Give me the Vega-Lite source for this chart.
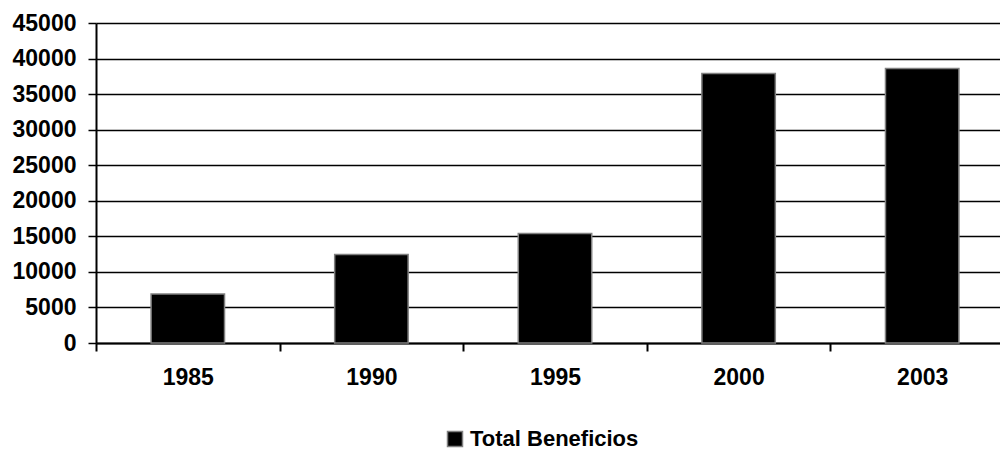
{
  "$schema": "https://vega.github.io/schema/vega-lite/v6.json",
  "width": 918,
  "height": 320,
  "autosize": "none",
  "padding": {"left": 96, "top": 23, "right": 0, "bottom": 110},
  "background": "white",
  "config": {
    "view": {"stroke": null},
    "font": "Liberation Sans"
  },
  "data": {
    "values": [
      {"year": "1985", "value": 6900, "serie": "Total Beneficios"},
      {"year": "1990", "value": 12450, "serie": "Total Beneficios"},
      {"year": "1995", "value": 15400, "serie": "Total Beneficios"},
      {"year": "2000", "value": 37900, "serie": "Total Beneficios"},
      {"year": "2003", "value": 38600, "serie": "Total Beneficios"}
    ]
  },
  "mark": {"type": "bar", "stroke": "#808080", "strokeWidth": 1.5, "width": {"band": 0.4}},
  "encoding": {
    "x": {
      "field": "year",
      "type": "nominal",
      "scale": {"paddingInner": 0, "paddingOuter": 0},
      "axis": {
        "title": null,
        "labelAngle": 0,
        "labelFont": "Liberation Sans",
        "labelFontWeight": "bold",
        "labelFontSize": 23,
        "labelColor": "black",
        "labelPadding": 15,
        "tickBand": "extent",
        "tickColor": "black",
        "tickSize": 8,
        "tickWidth": 2,
        "domainColor": "black",
        "domainWidth": 2,
        "grid": false
      }
    },
    "y": {
      "field": "value",
      "type": "quantitative",
      "scale": {"domain": [0, 45000], "nice": false},
      "axis": {
        "title": null,
        "values": [0, 5000, 10000, 15000, 20000, 25000, 30000, 35000, 40000, 45000],
        "format": "d",
        "labelFont": "Liberation Sans",
        "labelFontWeight": "bold",
        "labelFontSize": 23,
        "labelColor": "black",
        "labelPadding": 12,
        "tickColor": "black",
        "tickSize": 8,
        "tickWidth": 1.5,
        "domainColor": "black",
        "domainWidth": 2,
        "grid": true,
        "gridColor": "black",
        "gridWidth": 1.5,
        "gridOpacity": 1
      }
    },
    "color": {
      "field": "serie",
      "type": "nominal",
      "scale": {"range": ["black"]},
      "legend": {
        "title": null,
        "orient": "none",
        "legendX": 348,
        "legendY": 405,
        "symbolType": "square",
        "symbolSize": 225,
        "symbolStrokeColor": "#808080",
        "symbolStrokeWidth": 1.5,
        "symbolFillColor": "black",
        "labelFont": "Liberation Sans",
        "labelFontWeight": "bold",
        "labelFontSize": 22,
        "labelColor": "black",
        "labelOffset": 4,
        "labelLimit": 0,
        "padding": 0
      }
    }
  }
}
